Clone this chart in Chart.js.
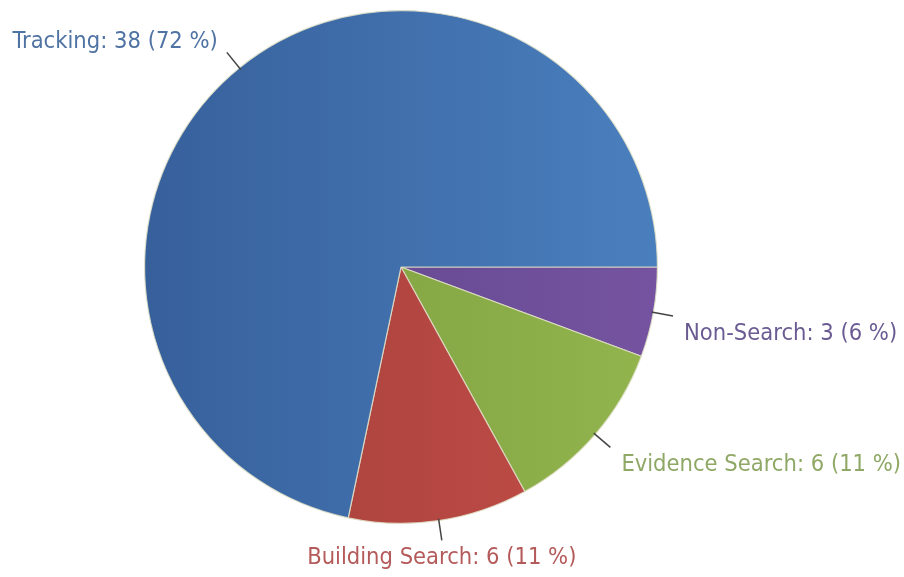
<!DOCTYPE html>
<html>
<head>
<meta charset="utf-8">
<script src="https://cdn.jsdelivr.net/npm/chart.js@4.4.1/dist/chart.umd.min.js"></script>
<style>
  html, body { margin: 0; padding: 0; background: #fff; }
  #wrap { width: 904px; height: 577px; }
</style>
</head>
<body>
<div id="wrap"><canvas id="pieChart"></canvas></div>
<script>
// Slice data, clockwise from 3 o'clock
const categories = ['Non-Search', 'Evidence Search', 'Building Search', 'Tracking'];
const counts = [3, 6, 6, 38];

// dark -> light pairs for the horizontal shading of each slice
const shadeLeft  = ['#5c4489', '#789a3c', '#a23e3a', '#37609b'];
const shadeRight = ['#7553a0', '#93b54e', '#c44e48', '#4a7fbe'];
const labelColors = ['#6b5b93', '#8fa866', '#b55a5a', '#4f73a3'];

const total = counts.reduce((a, b) => a + b, 0);

// Draw outside labels with short leader lines
const outsideLabels = {
    id: 'outsideLabels',
    afterDatasetsDraw(chart) {
        const ctx = chart.ctx;
        const meta = chart.getDatasetMeta(0);
        ctx.save();
        ctx.font = '23.5px "DejaVu Sans Condensed", "DejaVu Sans", sans-serif';
        meta.data.forEach((arc, i) => {
            const mid = (arc.startAngle + arc.endAngle) / 2;
            const c = Math.cos(mid), s = Math.sin(mid);
            const r = arc.outerRadius;
            const x1 = arc.x + c * (r - 2), y1 = arc.y + s * (r - 2);
            const x2 = arc.x + c * (r + 20), y2 = arc.y + s * (r + 20);
            ctx.strokeStyle = '#444';
            ctx.lineWidth = 1.5;
            ctx.beginPath();
            ctx.moveTo(x1, y1);
            ctx.lineTo(x2, y2);
            ctx.stroke();

            const pct = Math.round(counts[i] / total * 100);
            const text = categories[i] + ': ' + counts[i] + ' (' + pct + ' %)';
            let tx = x2, ty = y2;
            if (Math.abs(c) < 0.3) {
                ctx.textAlign = 'center';
            } else if (c > 0) {
                ctx.textAlign = 'left';
                tx += 11;
            } else {
                ctx.textAlign = 'right';
                tx -= 9;
            }
            if (s > 0) {
                ctx.textBaseline = 'top';
                ty += 6;
            } else {
                ctx.textBaseline = 'bottom';
                ty += 1;
            }
            ctx.fillStyle = labelColors[i];
            ctx.fillText(text, tx, ty);
        });
        ctx.restore();
    }
};

const ctxPie = document.getElementById('pieChart').getContext('2d');

new Chart(ctxPie, {
    type: 'pie',
    data: {
        labels: categories,
        datasets: [{
            data: counts,
            backgroundColor: function(context) {
                const chart = context.chart;
                const area = chart.chartArea;
                if (!area) return shadeLeft[context.dataIndex];
                const g = chart.ctx.createLinearGradient(area.left, 0, area.right, 0);
                g.addColorStop(0, shadeLeft[context.dataIndex]);
                g.addColorStop(1, shadeRight[context.dataIndex]);
                return g;
            },
            borderColor: 'rgba(225, 225, 200, 0.85)',
            borderWidth: 1.2
        }]
    },
    options: {
        responsive: true,
        maintainAspectRatio: false,
        animation: false,
        rotation: 90,
        layout: {
            padding: { left: 144, right: 246, top: 10, bottom: 53 }
        },
        plugins: {
            legend: { display: false },
            tooltip: { enabled: false }
        }
    },
    plugins: [outsideLabels]
});
</script>
</body>
</html>
